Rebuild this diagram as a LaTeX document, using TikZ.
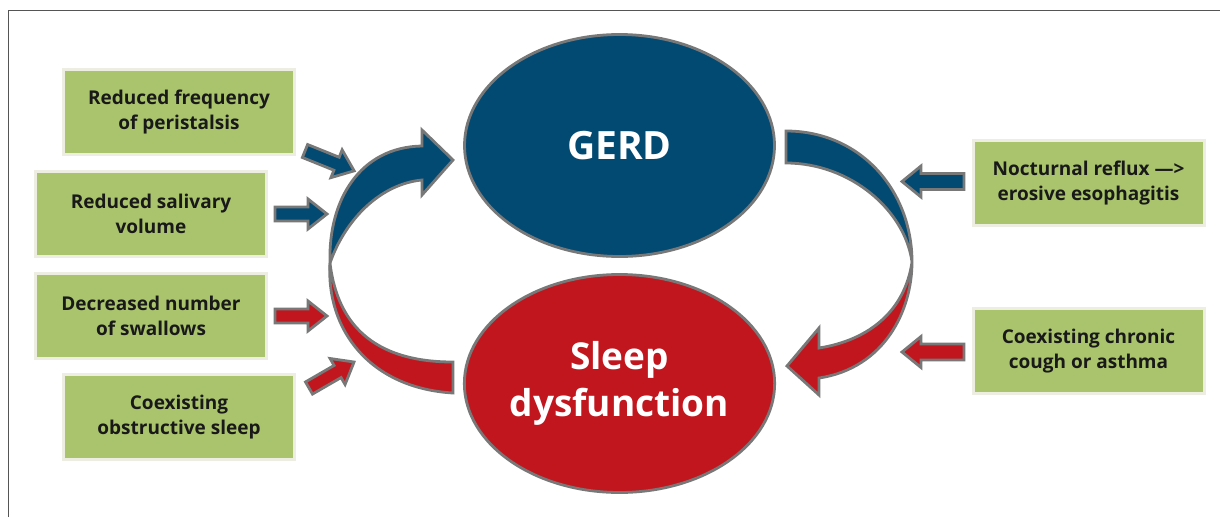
\documentclass[tikz,border=0pt]{standalone}
\usepackage{fontspec}
\setmainfont{Open Sans}
\usepackage{xcolor}
\usetikzlibrary{shapes.geometric}
\definecolor{gerdblue}{HTML}{034A72}
\definecolor{sleepred}{HTML}{C2161F}
\definecolor{boxgreen}{HTML}{A9C46C}
\definecolor{boxedge}{HTML}{EEEDE2}
\definecolor{rimgray}{HTML}{787878}
\definecolor{framegray}{HTML}{555555}

\newcommand{\factorarrow}[6]{% tail, angle, length, half shaft, half head, colour
  \begin{scope}[shift={(#1)}, rotate=#2]
    \draw[rim, fill=#6] (0,-#4) -- ({#3-19},-#4) -- ({#3-19},-#5) -- (#3,0) -- ({#3-19},#5) -- ({#3-19},#4) -- (0,#4) -- cycle;
  \end{scope}}

\begin{document}
\begin{tikzpicture}[x=1pt, y=-1pt,
  factor/.style={draw=boxedge, line width=3pt, fill=boxgreen, minimum width=231pt, minimum height=85pt,
    align=center, text=black!90, font=\fontsize{19}{25}\selectfont\bfseries},
  state/.style={ellipse, draw=rimgray, line width=2.8pt, minimum width=310pt, inner sep=0pt,
    align=center, text=white, font=\fontsize{37}{47}\selectfont\bfseries},
  rim/.style={draw=rimgray, line width=2.8pt, line join=miter}]
  \useasboundingbox (0,0) rectangle (1220,517);
  \draw[framegray, line width=1.3pt] (8.5,517) -- (8.5,10.5) -- (1220,10.5);

  % the two states
  \node[state, fill=gerdblue, minimum height=222pt, font=\fontsize{39}{47}\selectfont\bfseries] (gerd) at (619.5,145.5) {GERD};
  \node[state, fill=sleepred, minimum height=218pt] (sleep) at (619.5,383.5) {Sleep\\dysfunction};

  % the loop between them
  \coordinate (lefttip) at (330,263);
  \coordinate (righttip) at (912,262);
  \filldraw[rim, fill=gerdblue] (lefttip) .. controls (328,200) and (360,147) .. (422,146)
    -- (422,130) -- (453,160) -- (422,195) -- (422,180)
    .. controls (380,184) and (345,220) .. (lefttip) -- cycle;
  \filldraw[rim, fill=sleepred] (lefttip) .. controls (326,330) and (370,388) .. (453,393)
    -- (453,362) .. controls (380,362) and (338,330) .. (lefttip) -- cycle;
  \filldraw[rim, fill=gerdblue] (786,131) .. controls (860,131) and (912,190) .. (righttip)
    .. controls (905,210) and (850,163) .. (786,163) -- cycle;
  \filldraw[rim, fill=sleepred] (righttip) .. controls (912,310) and (885,368) .. (819,378)
    -- (819,395) -- (787,366) -- (819,328) -- (819,348)
    .. controls (870,340) and (905,310) .. (righttip) -- cycle;

  % factors
  \node[factor] (peri) at (179,112) {Reduced frequency\\of peristalsis};
  \node[factor] (saliva) at (151,213.5) {Reduced salivary\\volume};
  \node[factor] (swallow) at (151,315.5) {Decreased number\\of swallows};
  \node[factor] (osa) at (179,417) {Coexisting\\obstructive sleep};
  \node[factor] (reflux) at (1088.5,183) {Nocturnal reflux ---{}>\\erosive esophagitis};
  \node[factor] (cough) at (1088.5,351) {Coexisting chronic\\cough or asthma};

  \coordinate (t1) at (305,151);
  \coordinate (t2) at (275,214);
  \coordinate (t3) at (275,316);
  \coordinate (t4) at (309,388);
  \coordinate (t5) at (964,181.5);
  \coordinate (t6) at (964,352);
  \factorarrow{t1}{-22}{53}{7}{15}{gerdblue}
  \factorarrow{t2}{0}{52}{7}{15}{gerdblue}
  \factorarrow{t3}{0}{52}{7}{15}{sleepred}
  \factorarrow{t4}{30}{52}{7}{15}{sleepred}
  \factorarrow{t5}{180}{62}{8}{15.5}{gerdblue}
  \factorarrow{t6}{180}{62}{8}{15.5}{sleepred}
\end{tikzpicture}
\end{document}
